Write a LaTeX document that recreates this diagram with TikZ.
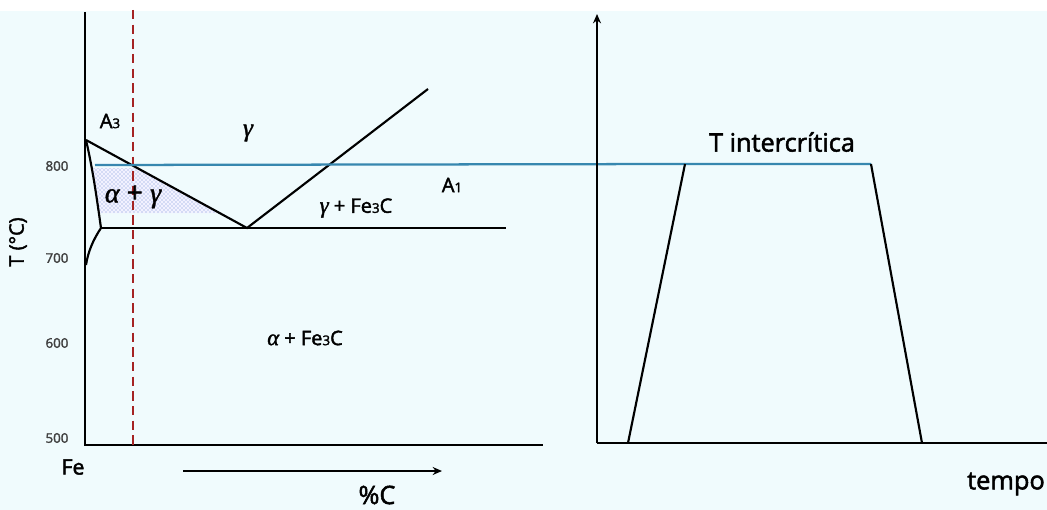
\documentclass[tikz,border=0pt]{standalone}
\usepackage{fontspec}
\setmainfont{Open Sans}
\newfontfamily\semib{Open Sans}[FakeBold=2]
\newfontfamily\grk{Liberation Serif}[FakeBold=1.5]
\usetikzlibrary{patterns,arrows.meta}
\definecolor{bg}{RGB}{240,251,253}
\definecolor{tline}{RGB}{55,135,175}
\definecolor{dred}{RGB}{165,35,35}
\definecolor{hatch}{RGB}{115,145,215}
\newcommand{\gk}[1]{{\grk\itshape #1}}
\begin{document}
\begin{tikzpicture}[x=0.75pt,y=-0.75pt,
  axisline/.style={line width=2.2pt,black},
  phase/.style={line width=1.6pt,black},
  tick/.style={font=\fontsize{10}{10}\selectfont\semib,text=black!75},
  lbl/.style={font=\fontsize{15}{15}\selectfont\semib,inner sep=0pt},
  big/.style={font=\fontsize{19}{19}\selectfont\semib,inner sep=0pt}]
\useasboundingbox (0,0) rectangle (1047,510);
\fill[white] (0,0) rectangle (1047,510);
\fill[bg] (0,11) rectangle (1047,510);
% key points
\coordinate (o) at (85,445);
\coordinate (ytop) at (85,12);
\coordinate (xend) at (543,445);
\coordinate (a3top) at (86,140);
\coordinate (eut) at (247,228);
\coordinate (acm) at (428,89);
\coordinate (alp) at (101,228);
\coordinate (alow) at (86,265);
\coordinate (eutend) at (506,228);
\coordinate (ro) at (597,443);
\coordinate (rtop) at (597,14);
\coordinate (rend) at (1047,443);
\coordinate (t1) at (628,443);
\coordinate (t2) at (685,164);
\coordinate (t3) at (871,164);
\coordinate (t4) at (922,443);
\coordinate (bl) at (95,165);
% hatched alpha+gamma region below the intercritical line
\fill[blue!5] (92,168) -- (137,168) -- (218,213) -- (99,213) .. controls (96,195) .. (92,168) -- cycle;
\fill[pattern=crosshatch dots,pattern color=hatch] (92,168) -- (137,168) -- (218,213) -- (99,213) .. controls (96,195) .. (92,168) -- cycle;
% left diagram axes
\draw[axisline] (ytop) -- (o) -- (xend);
% phase lines
\draw[phase] (a3top) -- (eut) -- (acm);
\draw[phase] (alp) -- (eutend);
\draw[phase] (a3top) .. controls (93,170) and (97,200) .. (alp);
\draw[phase] (alp) .. controls (93,240) and (88,252) .. (alow);
% red dashed line
\draw[dred,line width=2pt,dash pattern=on 7pt off 4pt] (133,10) -- (133,445);
% intercritical temperature line
\draw[tline,line width=1.7pt] (bl) -- (t2) -- (t3);
% right diagram
\draw[axisline,-{Stealth[length=7pt,width=6pt]}] (ro) -- (rtop);
\draw[axisline] (ro) -- (rend);
\draw[phase] (t1) -- (t2);
\draw[phase] (t3) -- (t4);
% %C arrow
\coordinate (ca) at (183,471);
\coordinate (cb) at (442,471);
\draw[line width=1.4pt,-{Stealth[length=7pt,width=6pt]}] (ca) -- (cb);
% labels
\node[tick] (k800) at (57,166) {800};
\node[tick] (k700) at (57,258) {700};
\node[tick] (k600) at (57,343) {600};
\node[tick] (k500) at (57,438) {500};
\node[lbl,rotate=90] (tc) at (18,242) {T (°C)};
\node[lbl] (la3) at (110,121) {A{\fontsize{10}{10}\selectfont 3}};
\node[font=\fontsize{19}{19}\selectfont,inner sep=0pt] (lg) at (248,133) {\gk{γ}};
\node[font=\fontsize{21}{21}\selectfont,inner sep=0pt] (lag) at (133,197) {\gk{α} {\semib +} \gk{γ}};
\node[lbl] (la1) at (452,185) {A{\fontsize{10}{10}\selectfont 1}};
\node[lbl] (lgf) at (356,208) {{\fontsize{17}{17}\selectfont\gk{γ}} + Fe{\fontsize{10}{10}\selectfont 3}C};
\node[lbl] (laf) at (305,338) {{\fontsize{17}{17}\selectfont\gk{α}} + Fe{\fontsize{10}{10}\selectfont 3}C};
\node[font=\fontsize{16}{16}\selectfont\semib,inner sep=0pt] (lfe) at (73,467) {Fe};
\node[big] (lc) at (377,495) {\%C};
\node[big] (lti) at (782,142) {T intercrítica};
\node[big] (lte) at (1006,484) {tempo};
\end{tikzpicture}
\end{document}
